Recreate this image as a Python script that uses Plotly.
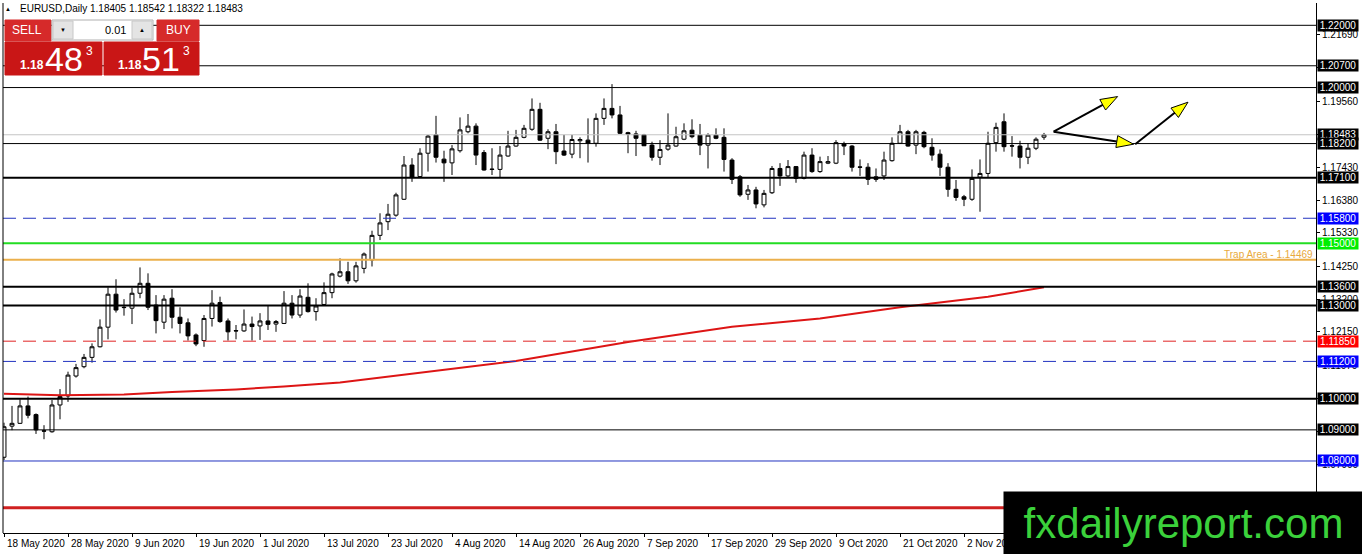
import pandas as pd
import plotly.graph_objects as go

# EURUSD daily bars, 18 May 2020 - 16 Nov 2020
dates = pd.bdate_range("2020-05-18", "2020-11-16")
opens = [1.0812, 1.0912, 1.0921, 1.0977, 1.0949, 1.0897, 1.0894, 1.0980, 1.1009, 1.1073,
         1.1103, 1.1133, 1.1167, 1.1230, 1.1336, 1.1294, 1.1291, 1.1339, 1.1371, 1.1301,
         1.1246, 1.1323, 1.1262, 1.1244, 1.1205, 1.1187, 1.1258, 1.1309, 1.1250, 1.1219,
         1.1218, 1.1240, 1.1234, 1.1250, 1.1240, 1.1242, 1.1307, 1.1269, 1.1326, 1.1280,
         1.1303, 1.1341, 1.1394, 1.1408, 1.1379, 1.1419, 1.1446, 1.1525, 1.1569, 1.1590,
         1.1641, 1.1751, 1.1714, 1.1789, 1.1848, 1.1770, 1.1758, 1.1797, 1.1858, 1.1876,
         1.1791, 1.1738, 1.1737, 1.1780, 1.1812, 1.1840, 1.1866, 1.1930, 1.1837, 1.1858,
         1.1796, 1.1786, 1.1829, 1.1831, 1.1821, 1.1901, 1.1933, 1.1912, 1.1855, 1.1851,
         1.1848, 1.1815, 1.1776, 1.1802, 1.1812, 1.1834, 1.1863, 1.1847, 1.1815, 1.1847,
         1.1840, 1.1767, 1.1713, 1.1657, 1.1671, 1.1623, 1.1662, 1.1740, 1.1716, 1.1746,
         1.1708, 1.1783, 1.1730, 1.1757, 1.1757, 1.1819, 1.1812, 1.1745, 1.1744, 1.1713,
         1.1716, 1.1765, 1.1821, 1.1858, 1.1815, 1.1856, 1.1808, 1.1786, 1.1744, 1.1673,
         1.1649, 1.1641, 1.1712, 1.1724, 1.1823, 1.1890, 1.1813, 1.1812, 1.1776, 1.1805,
         1.18405]
highs = [1.0923, 1.0977, 1.0998, 1.1007, 1.0953, 1.0915, 1.0996, 1.1031, 1.1087, 1.1112,
         1.1144, 1.1178, 1.1255, 1.1358, 1.1384, 1.1320, 1.1357, 1.1422, 1.1403, 1.1333,
         1.1333, 1.1352, 1.1294, 1.1258, 1.1210, 1.1269, 1.1349, 1.1328, 1.1258, 1.1237,
         1.1287, 1.1264, 1.1275, 1.1298, 1.1253, 1.1346, 1.1333, 1.1352, 1.1371, 1.1323,
         1.1374, 1.1405, 1.1451, 1.1440, 1.1440, 1.1470, 1.1540, 1.1596, 1.1626, 1.1662,
         1.1780, 1.1773, 1.1805, 1.1848, 1.1909, 1.1797, 1.1815, 1.1904, 1.1915, 1.1885,
         1.1799, 1.1805, 1.1812, 1.1861, 1.1864, 1.1880, 1.1965, 1.1951, 1.1866, 1.1883,
         1.1848, 1.1848, 1.1840, 1.1901, 1.1917, 1.1965, 1.2011, 1.1941, 1.1858, 1.1861,
         1.1851, 1.1826, 1.1831, 1.1917, 1.1874, 1.1885, 1.1898, 1.1883, 1.1853, 1.1869,
         1.1869, 1.1773, 1.1719, 1.1687, 1.1681, 1.1671, 1.1748, 1.1757, 1.1767, 1.1748,
         1.1794, 1.1805, 1.1778, 1.1780, 1.1831, 1.1826, 1.1815, 1.1769, 1.1757, 1.1740,
         1.1794, 1.1840, 1.1880, 1.1864, 1.1864, 1.1861, 1.1837, 1.1801, 1.1757, 1.1703,
         1.1655, 1.1737, 1.1769, 1.1858, 1.1887, 1.1917, 1.1844, 1.1829, 1.1821, 1.1840,
         1.18542]
lows = [1.0803, 1.0899, 1.0919, 1.0937, 1.0887, 1.0870, 1.0891, 1.0934, 1.0990, 1.1068,
        1.1098, 1.1116, 1.1165, 1.1191, 1.1277, 1.1267, 1.1240, 1.1323, 1.1285, 1.1210,
        1.1224, 1.1226, 1.1210, 1.1187, 1.1169, 1.1167, 1.1232, 1.1244, 1.1187, 1.1191,
        1.1215, 1.1187, 1.1189, 1.1221, 1.1215, 1.1240, 1.1258, 1.1260, 1.1277, 1.1251,
        1.1301, 1.1323, 1.1390, 1.1369, 1.1373, 1.1403, 1.1425, 1.1510, 1.1542, 1.1585,
        1.1639, 1.1697, 1.1712, 1.1730, 1.1759, 1.1697, 1.1719, 1.1791, 1.1853, 1.1751,
        1.1733, 1.1719, 1.1712, 1.1778, 1.1810, 1.1837, 1.1861, 1.1829, 1.1802, 1.1754,
        1.1780, 1.1773, 1.1773, 1.1759, 1.1810, 1.1880, 1.1901, 1.1851, 1.1789, 1.1780,
        1.1812, 1.1765, 1.1751, 1.1797, 1.1810, 1.1831, 1.1837, 1.1783, 1.1740, 1.1834,
        1.1730, 1.1690, 1.1649, 1.1639, 1.1612, 1.1615, 1.1658, 1.1684, 1.1712, 1.1694,
        1.1705, 1.1726, 1.1726, 1.1754, 1.1754, 1.1783, 1.1730, 1.1716, 1.1687, 1.1697,
        1.1703, 1.1762, 1.1819, 1.1810, 1.1786, 1.1805, 1.1765, 1.1716, 1.1649, 1.1636,
        1.1619, 1.1636, 1.1601, 1.1712, 1.1794, 1.1794, 1.1778, 1.1740, 1.1754, 1.1799,
        1.18322]
closes = [1.0910, 1.0921, 1.0977, 1.0947, 1.0900, 1.0896, 1.0980, 1.1007, 1.1076, 1.1100,
          1.1133, 1.1167, 1.1230, 1.1336, 1.1285, 1.1293, 1.1339, 1.1371, 1.1294, 1.1251,
          1.1320, 1.1262, 1.1242, 1.1202, 1.1176, 1.1258, 1.1307, 1.1248, 1.1215, 1.1218,
          1.1240, 1.1232, 1.1250, 1.1239, 1.1248, 1.1307, 1.1269, 1.1330, 1.1280, 1.1298,
          1.1341, 1.1401, 1.1408, 1.1379, 1.1427, 1.1465, 1.1525, 1.1565, 1.1593, 1.1655,
          1.1751, 1.1712, 1.1789, 1.1844, 1.1776, 1.1758, 1.1803, 1.1864, 1.1876, 1.1783,
          1.1735, 1.1737, 1.1783, 1.1812, 1.1840, 1.1869, 1.1930, 1.1831, 1.1858, 1.1794,
          1.1783, 1.1833, 1.1833, 1.1821, 1.1901, 1.1933, 1.1912, 1.1853, 1.1850, 1.1837,
          1.1813, 1.1776, 1.1801, 1.1815, 1.1842, 1.1861, 1.1842, 1.1815, 1.1847, 1.1837,
          1.1769, 1.1705, 1.1655, 1.1671, 1.1626, 1.1660, 1.1740, 1.1716, 1.1746, 1.1708,
          1.1783, 1.1730, 1.1762, 1.1762, 1.1823, 1.1812, 1.1744, 1.1744, 1.1705, 1.1705,
          1.1767, 1.1821, 1.1858, 1.1812, 1.1858, 1.1810, 1.1783, 1.1744, 1.1673, 1.1647,
          1.1641, 1.1708, 1.1724, 1.1821, 1.1872, 1.1810, 1.1812, 1.1776, 1.1805, 1.1834,
          1.18483]
bars = list(range(len(dates)))

# 200 day moving average, read at a few bars
ma_bars = [0, 7, 15, 21, 29, 35, 42, 48, 64, 78, 91, 102, 112, 123, 130]
ma_values = [1.1016, 1.1011, 1.1014, 1.1022, 1.1030, 1.1039, 1.1052, 1.1071,
             1.1121, 1.1182, 1.1231, 1.1258, 1.1294, 1.1328, 1.1358]

# horizontal levels drawn on the chart
levels = [1.22, 1.207, 1.20, 1.18483, 1.182, 1.171, 1.158, 1.15, 1.14469,
          1.136, 1.13, 1.1185, 1.112, 1.10, 1.09, 1.08, 1.065]
level_labels = ["1.22000", "1.20700", "1.20000", "1.18483", "1.18200", "1.17100",
                "1.15800", "1.15000", "", "1.13600", "1.13000", "1.11850",
                "1.11200", "1.10000", "1.09000", "1.08000", "1.06500"]
trap_label = "Trap Area - 1.14469"

# axis labels
date_ticks = [0, 8, 16, 24, 32, 40, 48, 56, 64, 72, 80, 88, 96, 104, 112, 120, 128]
date_labels = ["18 May 2020", "28 May 2020", "9 Jun 2020", "19 Jun 2020", "1 Jul 2020",
               "13 Jul 2020", "23 Jul 2020", "4 Aug 2020", "14 Aug 2020", "26 Aug 2020",
               "7 Sep 2020", "17 Sep 2020", "29 Sep 2020", "9 Oct 2020", "21 Oct 2020",
               "2 Nov 2020", "12 Nov 2020"]
price_ticks = [1.2169, 1.2063, 1.1956, 1.1850, 1.1743, 1.1638, 1.1533, 1.1425,
               1.1320, 1.1215, 1.1107, 1.1000, 1.0895, 1.0790, 1.0685]
price_labels = ["1.21690", "1.20630", "1.19560", "1.18500", "1.17430", "1.16380",
                "1.15330", "1.14250", "1.13200", "1.12150", "1.11070", "1.10000",
                "1.08950", "1.07900", "1.06850"]

# page geometry
W, H = 1362, 554
ML, MR, MT, MB = 3, 46, 3, 21
PW, PH = W - ML - MR, H - MT - MB
X0, X1 = -0.125, 164.0
Y0, Y1 = 1.05686, 1.22717
FONT = "Liberation Sans"


def px(x):
    return (x - ML) / PW


def py(y):
    return 1 - (y - MT) / PH


def to_pix(b, p):
    return ML + (b - X0) / (X1 - X0) * PW, MT + (Y1 - p) / (Y1 - Y0) * PH


fig = go.Figure()

fig.add_trace(go.Scatter(x=ma_bars, y=ma_values, mode="lines",
                         line=dict(color="#dd1515", width=2), hoverinfo="skip"))

fig.add_trace(go.Candlestick(
    x=bars, open=opens, high=highs, low=lows, close=closes,
    increasing=dict(line=dict(color="black", width=1), fillcolor="white"),
    decreasing=dict(line=dict(color="black", width=1), fillcolor="black"),
    whiskerwidth=0, hoverinfo="skip"))

shapes = []
annotations = []

# level lines + their price boxes on the axis
line_colors = ["black", "black", "black", "#c4c4c4", "black", "black", "#2233c0",
               "#22dd22", "#ebb04c", "black", "black", "#e02424", "#2233c0",
               "black", "black", "#2233c0", "#d02020"]
line_widths = [1, 1, 1, 1, 1, 2, 1, 2, 2, 2, 2, 1, 1, 2, 1, 1, 3]
line_dash = ["solid"] * 6 + ["13px,7px"] + ["solid"] * 4 + ["13px,7px", "13px,7px"] + ["solid"] * 4
box_colors = ["black", "black", "black", "black", "black", "black", "#0000ff",
              "#00ee00", None, "black", "black", "#ff0000", "#0000ff",
              "black", "black", "#0000ff", "#ff0000"]

for lv, lab, c, w, d, bg in zip(levels, level_labels, line_colors, line_widths, line_dash, box_colors):
    shapes.append(dict(type="line", xref="paper", yref="y", x0=0, x1=1, y0=lv, y1=lv,
                       line=dict(color=c, width=w, dash=d), layer="above"))
    if bg:
        annotations.append(dict(x=1, y=lv, xref="paper", yref="y", xanchor="left",
                                yanchor="middle", xshift=1, text=lab, showarrow=False,
                                bgcolor=bg, width=40, height=11, borderpad=0,
                                font=dict(family=FONT, size=10, color="white")))

annotations.append(dict(x=px(1315), y=1.14469, xref="paper", yref="y", xanchor="right",
                        yanchor="bottom", yshift=-2, text=trap_label, showarrow=False,
                        font=dict(family=FONT, size=10, color="#e8a93c")))

# left frame line
shapes.append(dict(type="line", xref="paper", yref="paper", x0=0, x1=0, y0=0, y1=1,
                   line=dict(color="black", width=1)))

# hand drawn arrows
arrows = [((131.2, 1.1858), (139.2, 1.1971)),
          ((131.2, 1.1858), (141.2, 1.1818)),
          ((141.4, 1.1818), (148.0, 1.1953))]
for (b0, p0), (b1, p1) in arrows:
    sx, sy = to_pix(b0, p0)
    tx, ty = to_pix(b1, p1)
    dx, dy = tx - sx, ty - sy
    n = (dx * dx + dy * dy) ** 0.5
    ux, uy = dx / n, dy / n
    bx, by = tx - 17 * ux, ty - 17 * uy
    shapes.append(dict(type="line", xref="paper", yref="paper", x0=px(sx), y0=py(sy),
                       x1=px(bx), y1=py(by), line=dict(color="black", width=2), layer="above"))
    pts = [(tx, ty), (bx - 6 * uy, by + 6 * ux), (bx + 6 * uy, by - 6 * ux)]
    path = "M " + " L ".join(f"{px(a)},{py(b)}" for a, b in pts) + " Z"
    shapes.append(dict(type="path", xref="paper", yref="paper", path=path,
                       fillcolor="#ffff00", line=dict(color="black", width=1), layer="above"))

# one click trading panel
def rect(x0, y0, x1, y1, fill, line=None):
    shapes.append(dict(type="rect", xref="paper", yref="paper", x0=px(x0), x1=px(x1),
                       y0=py(y1), y1=py(y0), fillcolor=fill,
                       line=dict(color=line or fill, width=1), layer="above"))


def label(x, y, text, size, color="white", anchor="center", bold=False):
    annotations.append(dict(x=px(x), y=py(y), xref="paper", yref="paper", xanchor=anchor,
                            yanchor="middle", showarrow=False,
                            text=f"<b>{text}</b>" if bold else text,
                            font=dict(family=FONT, size=size, color=color)))


rect(5, 20, 51, 41, "#d62a2a")
rect(52, 20, 153, 40, "white", "#b0b0b0")
rect(53, 21, 73, 39, "#e4e4e4", "#c8c8c8")
rect(132, 21, 152, 39, "#e4e4e4", "#c8c8c8")
rect(157, 20, 199, 41, "#d62a2a")
rect(5, 42, 102, 75, "#c91616")
rect(104, 42, 199, 75, "#c91616")

label(27, 30, "SELL", 12)
label(178, 30, "BUY", 12)
label(63, 30, "▼", 6, "black")
label(142, 30, "▲", 6, "black")
label(128, 30, "0.01", 11, "black", "right")
label(32, 65, "1.18", 12, bold=True)
label(64, 59, "48", 34)
label(89, 51, "3", 12)
label(130, 65, "1.18", 12, bold=True)
label(161, 59, "51", 34)
label(186, 51, "3", 12)

# chart header
label(8, 9, "▲", 6, "black")
label(18, 9, "EURUSD,Daily", 10, "black", "left")
label(88, 9, "1.18405 1.18542 1.18322 1.18483", 10, "black", "left")

# date labels sit to the right of their tick, MT4 style
for b, t in zip(date_ticks, date_labels):
    annotations.append(dict(x=b, y=py(543), xref="x", yref="paper", xanchor="left",
                            yanchor="middle", xshift=1, text=t, showarrow=False,
                            font=dict(family=FONT, size=10, color="black")))

# watermark
annotations.append(dict(x=px(1003), y=py(491), xref="paper", yref="paper", xanchor="left",
                        yanchor="top", width=359, height=63, borderpad=0, bgcolor="black",
                        text="fxdailyreport.com", showarrow=False,
                        font=dict(family=FONT, size=42, color="#3bd13b")))

fig.update_layout(
    width=W, height=H,
    margin=dict(l=ML, r=MR, t=MT, b=MB, pad=0),
    paper_bgcolor="white", plot_bgcolor="white",
    showlegend=False, boxgap=0.3,
    shapes=shapes, annotations=annotations,
    xaxis=dict(range=[X0, X1], tickvals=date_ticks, showticklabels=False,
               ticks="outside", ticklen=3, tickcolor="black", showgrid=False,
               zeroline=False, showline=True, linecolor="black", linewidth=1,
               rangeslider=dict(visible=False)),
    yaxis=dict(range=[Y0, Y1], side="right", tickvals=price_ticks, ticktext=price_labels,
               ticks="outside", ticklen=3, tickcolor="black", showgrid=False,
               zeroline=False, showline=True, linecolor="black", linewidth=1,
               tickfont=dict(family=FONT, size=10, color="black")),
)

# page body has an 8px default margin; drop it so the chart fills the window
fig.write_html("out.html", config={"displayModeBar": False},
               post_script="document.body.style.margin='0';document.body.style.overflow='hidden';")
